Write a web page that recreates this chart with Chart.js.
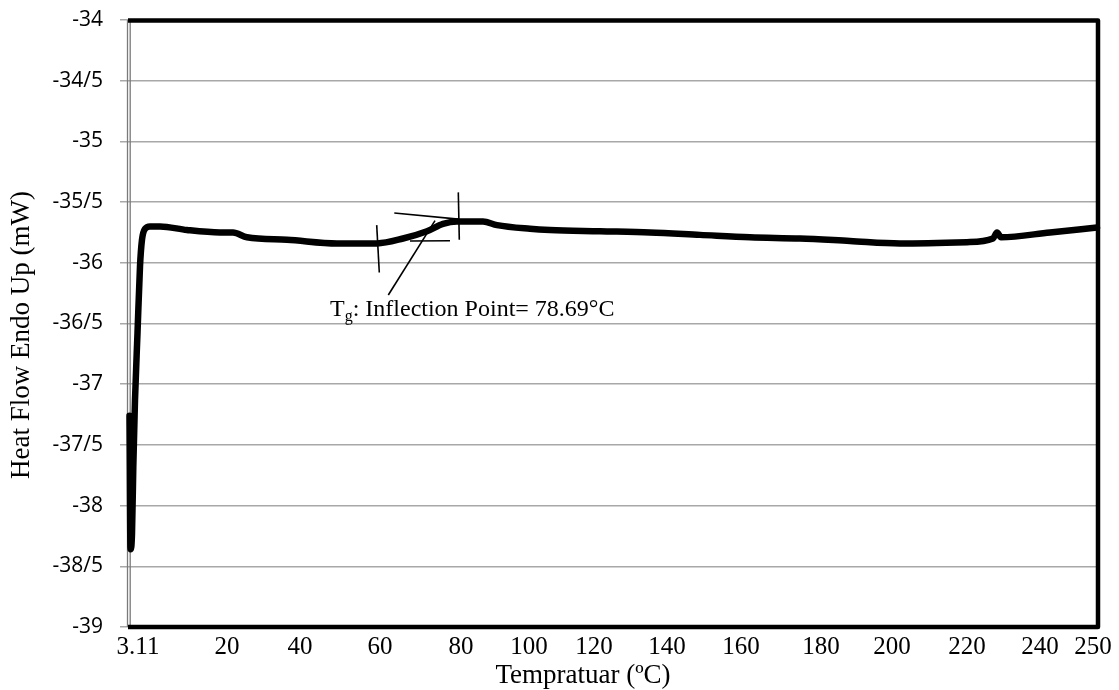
<!DOCTYPE html>
<html lang="en">
<head>
  <meta charset="UTF-8">
  <title>DSC - Heat Flow</title>
  <script src="https://cdn.jsdelivr.net/npm/chart.js"></script>
  <style>
    html, body { margin: 0; padding: 0; background: #fff; }
    #dscChart { display: block; }
  </style>
</head>
<body>
  <canvas id="dscChart" width="1119" height="690"></canvas>
  <script>
    // x = position along the category axis (0 = left edge, 969 = right edge),
    // temperature labels sit at the positions where they were printed
    const xTickPos = [9, 98, 171, 251, 332, 400, 465, 538, 612, 692, 763, 838, 911, 964];
    const xTickLabels = ['3.11', '20', '40', '60', '80', '100', '120', '140', '160', '180', '200', '220', '240', '250'];
    const yTickLabels = ['-34', '-34/5', '-35', '-35/5', '-36', '-36/5', '-37', '-37/5', '-38', '-38/5', '-39'];

    // heat flow trace (mW)
    const curveX = [0.5, 1.5, 3, 4.3, 6, 8.5, 11, 13, 16, 21, 31, 58, 91, 104, 118, 158, 208, 248, 274, 298,
                    314, 328, 341, 354, 368, 401, 421, 471, 521, 571, 621, 671, 721, 771, 838, 864, 868, 872, 921, 968];
    const curveY = [-37.26, -38.36, -38.23, -37.68, -37.13, -36.58, -36.03, -35.81, -35.72, -35.70, -35.70, -35.73,
                    -35.75, -35.75, -35.79, -35.81, -35.84, -35.84, -35.80, -35.74, -35.68, -35.66, -35.66, -35.66,
                    -35.69, -35.72, -35.73, -35.74, -35.75, -35.77, -35.79, -35.80, -35.82, -35.84, -35.83, -35.80,
                    -35.75, -35.79, -35.75, -35.71];

    // Tg construction lines, [x1, y1, x2, y2]
    const onsetMark = [247.7, -35.69, 250.3, -36.08];
    const endMark = [329.3, -35.42, 330.3, -35.81];
    const upperTangent = [265.3, -35.59, 329.3, -35.64];
    const lowerTangent = [281, -35.82, 321, -35.818];
    const leaderLine = [259.3, -36.265, 306, -35.653];
    const tgNote = { x: 201, y: -36.44, text: ': Inflection Point= 78.69°C' };

    const serif = '"Liberation Serif", "Times New Roman", serif';

    function segment(s) {
      return {
        data: [{ x: s[0], y: s[1] }, { x: s[2], y: s[3] }],
        showLine: true,
        borderColor: '#000',
        borderWidth: 1.6,
        pointRadius: 0,
        clip: false
      };
    }

    const datasets = [onsetMark, endMark, upperTangent, lowerTangent, leaderLine].map(segment);
    datasets.push({
      data: curveX.map((x, i) => ({ x: x, y: curveY[i] })),
      showLine: true,
      borderColor: '#000',
      borderWidth: 6.5,
      borderJoinStyle: 'round',
      borderCapStyle: 'round',
      pointRadius: 0,
      cubicInterpolationMode: 'monotone',
      clip: false
    });

    // gray double axis line on the left, heavy black frame on the other sides
    const framePlugin = {
      id: 'frame',
      beforeDatasetsDraw(chart) {
        const { ctx, chartArea: a } = chart;
        ctx.save();
        ctx.strokeStyle = '#7a7a7a';
        ctx.lineWidth = 1.3;
        [a.left - 1.5, a.left + 1.2].forEach(x => {
          ctx.beginPath();
          ctx.moveTo(x, a.top);
          ctx.lineTo(x, a.bottom);
          ctx.stroke();
        });
        ctx.restore();
      },
      afterDatasetsDraw(chart) {
        const { ctx, chartArea: a } = chart;
        ctx.save();
        ctx.strokeStyle = '#000';
        ctx.lineWidth = 4.5;
        ctx.lineJoin = 'round';
        ctx.beginPath();
        ctx.moveTo(a.left - 1, a.top + 0.5);
        ctx.lineTo(a.right, a.top + 0.5);
        ctx.lineTo(a.right, a.bottom);
        ctx.lineTo(a.left - 1, a.bottom);
        ctx.stroke();
        ctx.restore();
      }
    };

    // axis titles and the Tg note
    const textPlugin = {
      id: 'texts',
      afterDraw(chart) {
        const { ctx } = chart;
        const xs = chart.scales.x, ys = chart.scales.y;
        ctx.save();
        ctx.fillStyle = '#000';
        ctx.font = '27px ' + serif;
        ctx.textAlign = 'center';
        ctx.textBaseline = 'middle';
        ctx.fillText('Tempratuar (ºC)', 583, 676);
        ctx.translate(22, 335);
        ctx.rotate(-Math.PI / 2);
        ctx.fillText('Heat Flow Endo Up (mW)', 0, 0);
        ctx.restore();

        ctx.save();
        ctx.fillStyle = '#000';
        ctx.textAlign = 'left';
        ctx.textBaseline = 'alphabetic';
        let px = xs.getPixelForValue(tgNote.x);
        const py = ys.getPixelForValue(tgNote.y);
        ctx.font = '24px ' + serif;
        ctx.fillText('T', px, py);
        px += ctx.measureText('T').width;
        ctx.font = '16px ' + serif;
        ctx.fillText('g', px, py + 5);
        px += ctx.measureText('g').width;
        ctx.font = '24px ' + serif;
        ctx.fillText(tgNote.text, px, py);
        ctx.restore();
      }
    };

    new Chart(document.getElementById('dscChart').getContext('2d'), {
      type: 'scatter',
      data: { datasets: datasets },
      options: {
        responsive: false,
        animation: false,
        layout: { padding: { top: 20, right: 21, left: 0, bottom: 0 } },
        plugins: {
          legend: { display: false },
          tooltip: { enabled: false }
        },
        scales: {
          x: {
            type: 'linear',
            min: 0,
            max: 969,
            grid: { display: false },
            border: { display: false },
            afterBuildTicks: s => { s.ticks = xTickPos.map(v => ({ value: v })); },
            afterFit: s => { s.height = 63; },
            ticks: {
              autoSkip: false,
              maxRotation: 0,
              minRotation: 0,
              padding: -3,
              color: '#000',
              font: { family: serif, size: 25 },
              callback: (v, i) => xTickLabels[i]
            }
          },
          y: {
            type: 'linear',
            min: -39,
            max: -34,
            grid: { color: '#a8a8a8', lineWidth: 1.5, tickLength: 9 },
            border: { display: false },
            afterFit: s => { s.width = 129; s.paddingTop = 0; s.paddingBottom = 0; },
            ticks: {
              stepSize: 0.5,
              padding: 17,
              color: '#000',
              font: { family: '"Open Sans", "Noto Sans", sans-serif', size: 21 },
              callback: (v, i) => yTickLabels[yTickLabels.length - 1 - i]
            }
          }
        }
      },
      plugins: [framePlugin, textPlugin]
    });
  </script>
</body>
</html>
